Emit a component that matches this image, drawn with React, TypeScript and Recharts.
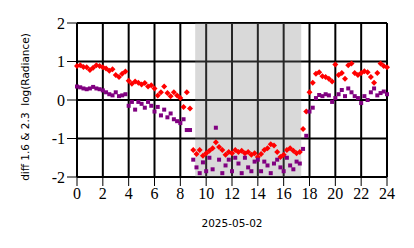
import { CartesianGrid, ReferenceArea, Scatter, ScatterChart, XAxis, YAxis } from "recharts";

const hours = [
  0, 0.25, 0.5, 0.75, 1, 1.25, 1.5, 1.75, 2, 2.25, 2.5, 2.75, 3, 3.25, 3.5, 3.75,
  4, 4.25, 4.5, 4.75, 5, 5.25, 5.5, 5.75, 6, 6.25, 6.5, 6.75, 7, 7.25, 7.5, 7.75,
  8, 8.25, 8.5, 8.75, 9, 9.25, 9.5, 9.75, 10, 10.25, 10.5, 10.75, 11, 11.25, 11.5, 11.75,
  12, 12.25, 12.5, 12.75, 13, 13.25, 13.5, 13.75, 14, 14.25, 14.5, 14.75, 15, 15.25, 15.5, 15.75,
  16, 16.25, 16.5, 16.75, 17, 17.25, 17.5, 17.75, 18, 18.25, 18.5, 18.75, 19, 19.25, 19.5, 19.75,
  20, 20.25, 20.5, 20.75, 21, 21.25, 21.5, 21.75, 22, 22.25, 22.5, 22.75, 23, 23.25, 23.5, 23.75, 24,
];

// diff 1.6 (red)
const band16 = [
  0.88, 0.9, 0.86, 0.85, 0.78, 0.84, 0.9, 0.88, 0.85, 0.82, 0.76, 0.8, 0.65, 0.6, 0.68, 0.74,
  0.5, 0.42, 0.48, 0.45, 0.4, 0.44, 0.35, 0.38, 0.3, 0.12, 0.2, 0.35, 0.18, 0.1, 0.2, 0.12,
  0.05, -0.18, 0.2, -0.22, -1.3, -1.4, -1.3, -1.45, -1.38, -1.32, -1.25, -1.1, -1.22, -1.3, -1.42, -1.35,
  -1.38, -1.3, -1.35, -1.32, -1.38, -1.35, -1.42, -1.38, -1.48, -1.4, -1.3, -1.25, -1.15, -1.18, -1.35, -1.48,
  -1.42, -1.3, -1.25, -1.32, -1.38, -1.35, -0.75, -0.3, 0.2, 0.45, 0.68, 0.72, 0.62, 0.6, 0.55, 0.48,
  0.92, 0.65, 0.7, 0.55, 0.9, 0.95, 0.7, 0.65, 0.7, 0.75, 0.72, 0.6, 0.45, 0.7, 0.95, 0.88, 0.85,
];

// diff 2.3 (purple)
const band23 = [
  0.35, 0.33, 0.3, 0.28, 0.3, 0.34, 0.3, 0.28, 0.25, 0.2, 0.15, 0.12, 0.2, 0.1, 0.12, 0.15,
  -0.15, -0.05, -0.25, -0.05, -0.1, -0.2, -0.05, -0.15, -0.3, -0.18, -0.4, -0.25, -0.45, -0.35, -0.5, -0.55,
  -0.6, -0.5, -0.78, -0.78, -1.55, -1.75, -1.9, -1.62, -1.85, -1.5, -1.8, -0.72, -1.55, -1.9, -1.7, -1.55,
  -1.85, -1.5, -1.65, -1.9, -1.5, -1.75, -1.85, -1.6, -1.55, -1.85, -1.6, -1.7, -1.9, -1.65, -1.55, -1.75,
  -1.85, -1.5, -1.7, -1.8, -1.6, -1.65, -1.27, -0.93, -0.3, -0.2, 0.05, 0.13, 0.1, 0.15, 0.12, -0.05,
  0.05, 0.15, 0.26, 0.1, 0.3, 0.2, 0.1, 0.05, -0.08, 0.1, 0, 0.2, 0.3, 0.12, 0.18, 0.22, 0.15,
];

const xTicks = [0, 2, 4, 6, 8, 10, 12, 14, 16, 18, 20, 22, 24];
const yTicks = [-2, -1, 0, 1, 2];
const daylight = [9.15, 17.36];

const redPoints = hours.map((h, i) => ({ h, v: band16[i] }));
const purplePoints = hours.map((h, i) => ({ h, v: band23[i] }));

const font = "DejaVu Sans";

const Diamond = (p: any) => (
  <polygon
    points={`${p.cx},${p.cy - 3} ${p.cx + 3},${p.cy} ${p.cx},${p.cy + 3} ${p.cx - 3},${p.cy}`}
    fill="#ff0000"
  />
);
const Square = (p: any) => <rect x={p.cx - 2} y={p.cy - 2} width={4} height={4} fill="#800080" />;

const titleStyle: any = {
  position: "absolute",
  fontFamily: font,
  fontSize: 10.5,
  lineHeight: 1,
  whiteSpace: "pre",
  color: "#000",
};

export default function App() {
  return (
    <div style={{ position: "absolute", left: 0, top: 0, width: 414, height: 248 }}>
      <ScatterChart width={414} height={248} margin={{ top: 23, right: 27, bottom: 17, left: 0 }}>
        <CartesianGrid stroke="#000000" strokeWidth={2} />
        <XAxis type="number" dataKey="h" domain={[0, 24]} ticks={xTicks} height={54} axisLine={false} stroke="#000000" tickSize={9} />
        <YAxis type="number" dataKey="v" domain={[-2, 2]} ticks={yTicks} width={77} axisLine={false} stroke="#000000" tickSize={10} />
        <Scatter data={redPoints} shape={Diamond} isAnimationActive={false} />
        <Scatter data={purplePoints} shape={Square} isAnimationActive={false} />
        <ReferenceArea x1={daylight[0]} x2={daylight[1]} y1={-2} y2={2} fill="#808080" fillOpacity={0.3} />
      </ScatterChart>
      <div style={{ ...titleStyle, left: 232, top: 223, transform: "translate(-50%, -50%)" }}>2025-05-02</div>
      <div style={{ ...titleStyle, left: 25, top: 107, transform: "translate(-50%, -50%) rotate(-90deg)" }}>
        diff 1.6 &amp; 2.3  log(Radiance)
      </div>
    </div>
  );
}
